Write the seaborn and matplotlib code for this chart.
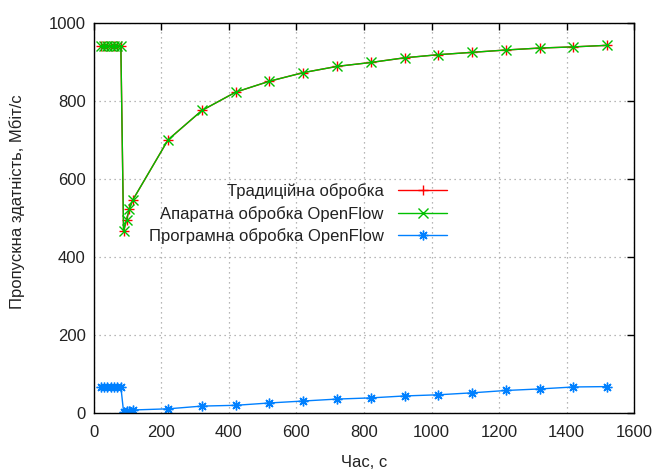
import matplotlib
matplotlib.use("Agg")
import matplotlib.pyplot as plt
import seaborn as sns
import pandas as pd

# Throughput over time for three packet-processing modes
time_s = [20, 30, 40, 50, 60, 70, 80, 88, 97, 105, 115,
          220, 320, 420, 520, 620, 720, 820, 920, 1020, 1120, 1220, 1320, 1420, 1520]
traditional = [940, 940, 940, 940, 940, 940, 940, 466, 495, 522, 545,
               700, 775, 822, 850, 872, 888, 898, 910, 918, 924, 930, 935, 938, 942]
hardware_of = [940, 940, 940, 940, 940, 940, 940, 466, 495, 522, 545,
               700, 775, 822, 850, 872, 888, 898, 910, 918, 924, 930, 935, 938, 942]
software_of = [66, 66, 66, 66, 66, 66, 66, 3, 4, 5, 7,
               10, 17, 19, 25, 30, 35, 38, 43, 46, 51, 57, 61, 66, 67]

labels = ["Традиційна обробка", "Апаратна обробка OpenFlow", "Програмна обробка OpenFlow"]
colors = ["#ff0000", "#00c000", "#0080ff"]
markers = ["+", "x", (8, 2, 0)]
xticks = [0, 200, 400, 600, 800, 1000, 1200, 1400, 1600]
yticks = [0, 200, 400, 600, 800, 1000]

sns.set_style("white")
plt.rcParams["font.family"] = ["Liberation Sans", "DejaVu Sans"]

df = pd.DataFrame({"t": time_s, "trad": traditional, "hw": hardware_of, "sw": software_of})

fig = plt.figure(figsize=(6.53, 4.69), dpi=100)
ax = fig.add_axes([0.1437, 0.12, 0.8276, 0.8316])

for col, lab, c, m in zip(["trad", "hw", "sw"], labels, colors, markers):
    sns.lineplot(data=df, x="t", y=col, ax=ax, color=c, marker=m, label=lab,
                 linewidth=1.0, markersize=7, markeredgecolor=c,
                 markeredgewidth=1.0, markerfacecolor=c)

ax.set_xlim(0, 1600)
ax.set_ylim(0, 1000)
ax.set_xticks(xticks)
ax.set_yticks(yticks)
ax.tick_params(direction="in", top=True, right=True, length=5, width=1,
               labelsize=12, colors="black", labelcolor="#222222")
ax.tick_params(axis="x", pad=9)
ax.tick_params(axis="y", pad=6)
ax.grid(True, color="#a0a0a0", linestyle=(0, (1, 3)), linewidth=0.9)
for sp in ax.spines.values():
    sp.set_visible(True)
    sp.set_color("black")
    sp.set_linewidth(1.0)

ax.set_xlabel("Час, с", fontsize=12, labelpad=11, color="#222222")
ax.set_ylabel("Пропускна здатність, Мбіт/с", fontsize=12, color="#222222")
ax.yaxis.set_label_coords(-0.127, 0.54)

leg = ax.legend(loc="center right", bbox_to_anchor=(0.653, 0.51), frameon=False,
                markerfirst=False, handlelength=2.9, fontsize=12,
                labelspacing=0.4, borderpad=0, borderaxespad=0, handletextpad=0.9)
for t in leg.get_texts():
    t.set_color("#222222")

fig.savefig("out.png", dpi=100)
